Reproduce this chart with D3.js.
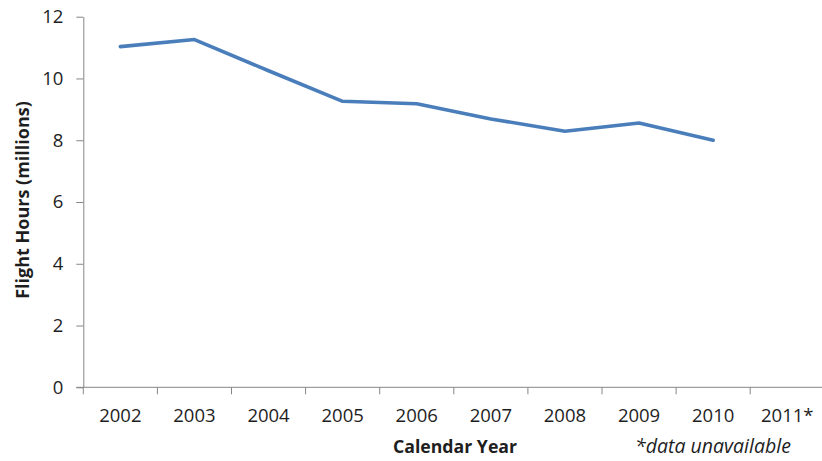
<!DOCTYPE html>
<html><head><meta charset="utf-8">
<script src="https://cdn.jsdelivr.net/npm/d3@7"></script>
<style>body{margin:0;background:#fff}svg{display:block}</style>
</head><body>
<svg id="c" width="822" height="461"></svg>
<script>
const categories = ["2002","2003","2004","2005","2006","2007","2008","2009","2010","2011*"];
const flightHours = [11.03, 11.26, 10.25, 9.26, 9.18, 8.69, 8.29, 8.56, 8.0, null];
const yTicks = [0, 2, 4, 6, 8, 10, 12];

(function(){
const svg = d3.select("#c");
const mLeft = 83.3, mRight = 824.3, mTop = 16.7, mBottom = 387.3;
const font = "'Open Sans', sans-serif";
const axisColor = "#868686", textColor = "#1e1e1e";

const x = d3.scaleBand().domain(categories).range([mLeft, mRight]).padding(0);
const y = d3.scaleLinear().domain([0, 12]).range([mBottom, mTop]);

// Y axis
const ya = svg.append("g").attr("transform", `translate(${mLeft},0)`)
  .call(d3.axisLeft(y).tickValues(yTicks).tickSize(7).tickPadding(13).tickSizeOuter(0));
ya.select(".domain").attr("stroke", axisColor);
ya.selectAll(".tick line").attr("stroke", axisColor);
ya.selectAll(".tick text").attr("fill", textColor).style("font-family", font).style("font-size", "18.5px");

// X axis line
svg.append("line").attr("x1", mLeft - 7).attr("x2", 822).attr("y1", mBottom).attr("y2", mBottom)
  .attr("stroke", axisColor);
const bounds = categories.map(c => x(c)).concat([x(categories[categories.length-1]) + x.bandwidth()]);
svg.selectAll(".xt").data(bounds.filter(b => b <= 822)).enter().append("line")
  .attr("x1", d => d).attr("x2", d => d).attr("y1", mBottom).attr("y2", mBottom + 7)
  .attr("stroke", axisColor);
svg.selectAll(".xl").data(categories).enter().append("text")
  .attr("x", d => x(d) + x.bandwidth()/2).attr("y", 421.7)
  .attr("text-anchor", "middle").attr("fill", textColor)
  .style("font-family", font).style("font-size", "18.5px").text(d => d);

// line
const line = d3.line()
  .defined(d => d.v !== null)
  .x(d => x(d.c) + x.bandwidth()/2).y(d => y(d.v));
svg.append("path")
  .datum(categories.map((c, i) => ({c, v: flightHours[i]})))
  .attr("d", line).attr("fill", "none").attr("stroke", "#4a7ebb")
  .attr("stroke-width", 3.6).attr("stroke-linejoin", "round").attr("stroke-linecap", "round");

// titles
svg.append("text").attr("x", 455).attr("y", 453).attr("text-anchor", "middle")
  .attr("fill", textColor).style("font-family", font).style("font-weight", "bold").style("font-size", "17.7px")
  .text("Calendar Year");
svg.append("text").attr("x", 713).attr("y", 453).attr("text-anchor", "middle")
  .attr("fill", textColor).style("font-family", font).style("font-style", "italic").style("font-size", "19.5px")
  .text("*data unavailable");
svg.append("text").attr("transform", "translate(29,200) rotate(-90)").attr("text-anchor", "middle")
  .attr("fill", textColor).style("font-family", font).style("font-weight", "bold").style("font-size", "18px")
  .text("Flight Hours (millions)");
})();
</script>
</body></html>
